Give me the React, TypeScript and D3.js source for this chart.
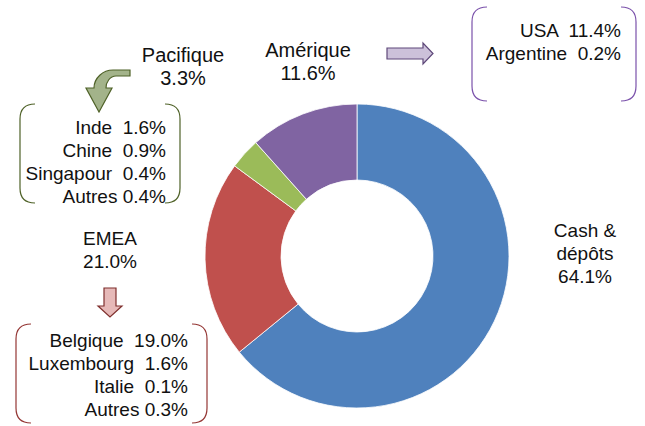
import React from "react";
import * as d3 from "d3";

const categories = ["Cash & dépôts", "EMEA", "Pacifique", "Amérique"];
const values = [64.1, 21.0, 3.3, 11.6];
const colors = ["#4F81BD", "#C0504D", "#9BBB59", "#8064A2"];

const ameriqueDetail = ["USA  11.4%", "Argentine  0.2%"];
const pacifiqueDetail = ["Inde  1.6%", "Chine  0.9%", "Singapour  0.4%", "Autres 0.4%"];
const emeaDetail = ["Belgique  19.0%", "Luxembourg  1.6%", "Italie  0.1%", "Autres 0.3%"];

const W = 645;
const H = 426;
const cx = 357;
const cy = 256;
const outerR = 152;
const innerR = 76;
const FONT = "'Liberation Sans', Arial, sans-serif";
const FS = 19;
const LH = 23;

function bracketPath(x0: number, x1: number, y0: number, y1: number, r: number) {
  const left = `M${x0 + r},${y0} Q${x0},${y0} ${x0},${y0 + r} L${x0},${y1 - r} Q${x0},${y1} ${x0 + r},${y1}`;
  const right = `M${x1 - r},${y0} Q${x1},${y0} ${x1},${y0 + r} L${x1},${y1 - r} Q${x1},${y1} ${x1 - r},${y1}`;
  return left + " " + right;
}

function Lines({ x, y, lines, anchor, fs = FS }: { x: number; y: number; lines: string[]; anchor: string; fs?: number }) {
  return (
    <text x={x} y={y} textAnchor={anchor} fontFamily={FONT} fontSize={fs} fill="#111" style={{ whiteSpace: "pre" }}>
      {lines.map((l, i) => (
        <tspan key={i} x={x} y={y + i * LH} style={{ whiteSpace: "pre" }}>
          {l}
        </tspan>
      ))}
    </text>
  );
}

export default function App() {
  const pie = d3.pie<number>().sort(null).value((d) => d).startAngle(0).endAngle(2 * Math.PI);
  const arcs = pie(values);
  const arc = d3.arc<d3.PieArcDatum<number>>().innerRadius(innerR).outerRadius(outerR);
  const fmt = (v: number) => v.toFixed(1) + "%";

  return (
    <svg width={W} height={H} style={{ position: "absolute", left: 0, top: 0, background: "#fff" }}>
      <g transform={`translate(${cx},${cy})`}>
        {arcs.map((a, i) => (
          <path key={i} d={arc(a) || ""} fill={colors[i]} stroke="#fff" strokeWidth={0.8} />
        ))}
      </g>

      {/* Category labels */}
      <Lines x={585} y={237} lines={["Cash &", "dépôts", fmt(values[0])]} anchor="middle" />
      <Lines x={110} y={245} lines={[categories[1], fmt(values[1])]} anchor="middle" />
      <Lines x={183} y={62} lines={[categories[2], fmt(values[2])]} anchor="middle" fs={20} />
      <Lines x={308} y={57} lines={["Amérique", fmt(values[3])]} anchor="middle" fs={20} />

      {/* Detail boxes */}
      <path d={bracketPath(472, 636, 7, 101, 15)} fill="none" stroke="#7B52AB" strokeWidth={1.2} />
      <Lines x={621} y={37} lines={ameriqueDetail} anchor="end" />

      <path d={bracketPath(20, 180, 104, 203, 15)} fill="none" stroke="#4F6228" strokeWidth={1.2} />
      <Lines x={166} y={134} lines={pacifiqueDetail} anchor="end" />

      <path d={bracketPath(16, 207, 324, 423, 15)} fill="none" stroke="#943634" strokeWidth={1.2} />
      <Lines x={188} y={347} lines={emeaDetail} anchor="end" />

      {/* Arrows */}
      <path
        d="M387,48 L423,48 L423,43 L433,53.5 L423,64 L423,59 L387,59 Z"
        fill="#CCC1DA"
        stroke="#5F497A"
        strokeWidth={1.2}
      />
      <path
        d="M104,288 L116,288 L116,306 L122,306 L110,317 L98,306 L104,306 Z"
        fill="#E6B9B8"
        stroke="#7F2F2D"
        strokeWidth={1.2}
      />
      <path
        d="M130,70 L113,70 C103,70 94,78 94,88 L86,88 L99,112 L112,88 L106,88 C106,82 110,76 116,76 L130,76 Z"
        fill="#A3B38A"
        stroke="#4F6228"
        strokeWidth={1.2}
      />
    </svg>
  );
}
